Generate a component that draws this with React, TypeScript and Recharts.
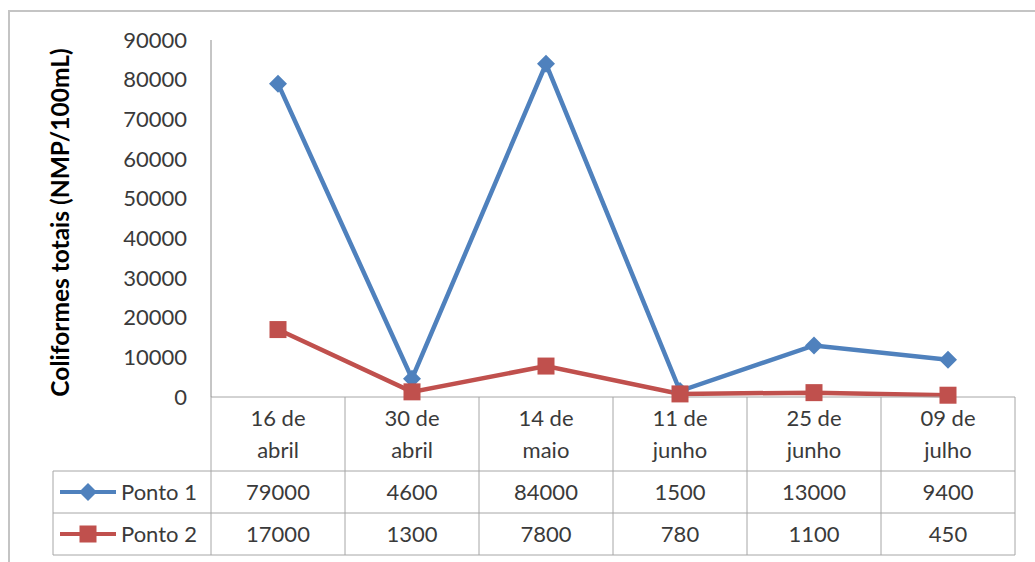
import { Line, LineChart, XAxis, YAxis } from 'recharts';

const categories = ['16 de abril', '30 de abril', '14 de maio', '11 de junho', '25 de junho', '09 de julho'];
const ponto1 = [79000, 4600, 84000, 1500, 13000, 9400];
const ponto2 = [17000, 1300, 7800, 780, 1100, 450];
const seriesNames = ['Ponto 1', 'Ponto 2'];
const yTicks = [0, 10000, 20000, 30000, 40000, 50000, 60000, 70000, 80000, 90000];
const yLabel = 'Coliformes totais (NMP/100mL)';

const FONT = 'Lato, "Open Sans", sans-serif';
const BLUE = '#4f81bd';
const RED = '#c0504d';
const GRID = '#a6a6a6';
const TEXT = '#3a3a3a';

const data = categories.map((date, i) => ({ date, p1: ponto1[i], p2: ponto2[i] }));

function diamond(cx: number, cy: number, r: number, color: string, key?: string) {
  return <path key={key} d={`M${cx},${cy - r}L${cx + r},${cy}L${cx},${cy + r}L${cx - r},${cy}Z`} fill={color} />;
}

function square(cx: number, cy: number, r: number, color: string, key?: string) {
  return <rect key={key} x={cx - r} y={cy - r} width={r * 2} height={r * 2} fill={color} />;
}

const DiamondDot = (p: any) => diamond(p.cx, p.cy, 9, BLUE, `d-${p.index}`);
const SquareDot = (p: any) => square(p.cx, p.cy, 8.5, RED, `s-${p.index}`);

// data table under the plot, drawn per category through the axis ticks
function TableTick(props: any) {
  const { x, y, payload } = props;
  const index: number = payload.index;
  const half: number = payload.offset || 67;
  const left = x - half;
  const right = x + half;
  const [day, month] = String(payload.value).split(' de ');
  const row1 = y + 74;
  const row2 = y + 116;
  const bottom = y + 158;
  const txt = { fontFamily: FONT, fontSize: 22, fill: TEXT };
  const tableLeft = left - 158;

  return (
    <g>
      <line x1={left} y1={y} x2={left} y2={bottom} stroke={GRID} />
      {index === categories.length - 1 && <line x1={right} y1={y} x2={right} y2={bottom} stroke={GRID} />}
      <line x1={left} y1={row1} x2={right} y2={row1} stroke={GRID} />
      <line x1={left} y1={row2} x2={right} y2={row2} stroke={GRID} />
      <line x1={left} y1={bottom} x2={right} y2={bottom} stroke={GRID} />
      <text x={x} y={y + 21} dy="0.355em" textAnchor="middle" {...txt}>{day} de</text>
      <text x={x} y={y + 53} dy="0.355em" textAnchor="middle" {...txt}>{month}</text>
      <text x={x} y={y + 95} dy="0.355em" textAnchor="middle" {...txt}>{ponto1[index]}</text>
      <text x={x} y={y + 137} dy="0.355em" textAnchor="middle" {...txt}>{ponto2[index]}</text>
      {index === 0 && (
        <g>
          <line x1={tableLeft} y1={row1} x2={tableLeft} y2={bottom} stroke={GRID} />
          <line x1={tableLeft} y1={row1} x2={left} y2={row1} stroke={GRID} />
          <line x1={tableLeft} y1={row2} x2={left} y2={row2} stroke={GRID} />
          <line x1={tableLeft} y1={bottom} x2={left} y2={bottom} stroke={GRID} />
          <line x1={tableLeft + 7} y1={y + 95} x2={tableLeft + 63} y2={y + 95} stroke={BLUE} strokeWidth={4} />
          {diamond(tableLeft + 35, y + 95, 9, BLUE)}
          <text x={tableLeft + 68} y={y + 95} dy="0.355em" {...txt}>{seriesNames[0]}</text>
          <line x1={tableLeft + 7} y1={y + 137} x2={tableLeft + 63} y2={y + 137} stroke={RED} strokeWidth={4} />
          {square(tableLeft + 35, y + 137, 8.5, RED)}
          <text x={tableLeft + 68} y={y + 137} dy="0.355em" {...txt}>{seriesNames[1]}</text>
        </g>
      )}
    </g>
  );
}

function YTitle(props: any) {
  const vb = props.viewBox;
  const cx = vb.x + 60;
  const cy = vb.y + vb.height / 2 + 4;
  return (
    <text
      x={cx}
      y={cy}
      transform={`rotate(-90 ${cx} ${cy})`}
      textAnchor="middle"
      dy="0.355em"
      fontFamily={FONT}
      fontSize={24.5}
      fontWeight="bold"
      fill="#000"
    >
      {yLabel}
    </text>
  );
}

export default function App() {
  return (
    <div style={{ position: 'absolute', left: 0, top: 0, width: 1035, height: 562, overflow: 'hidden', background: '#fff' }}>
      <div style={{ position: 'absolute', left: 8, top: 10, width: 1100, height: 700, border: '2px solid #c4c4c4' }} />
      <LineChart
        width={1035}
        height={562}
        data={data}
        margin={{ top: 40, right: 20, bottom: 0, left: 0 }}
        style={{ position: 'absolute', left: 0, top: 0, fontFamily: FONT }}
      >
        <XAxis
          dataKey="date"
          scale="band"
          height={165}
          interval={0}
          tickSize={0}
          tickMargin={0}
          tickLine={false}
          axisLine={{ stroke: GRID }}
          tick={<TableTick />}
        />
        <YAxis
          width={211}
          domain={[0, 90000]}
          ticks={yTicks}
          interval={0}
          tickLine={false}
          tickMargin={18}
          axisLine={{ stroke: '#8c8c8c' }}
          tick={{ fill: TEXT, fontSize: 22, fontFamily: FONT }}
          label={<YTitle />}
        />
        <Line
          dataKey="p1"
          name={seriesNames[0]}
          stroke={BLUE}
          strokeWidth={4.5}
          dot={DiamondDot}
          activeDot={false}
          isAnimationActive={false}
        />
        <Line
          dataKey="p2"
          name={seriesNames[1]}
          stroke={RED}
          strokeWidth={4.5}
          dot={SquareDot}
          activeDot={false}
          isAnimationActive={false}
        />
      </LineChart>
    </div>
  );
}
